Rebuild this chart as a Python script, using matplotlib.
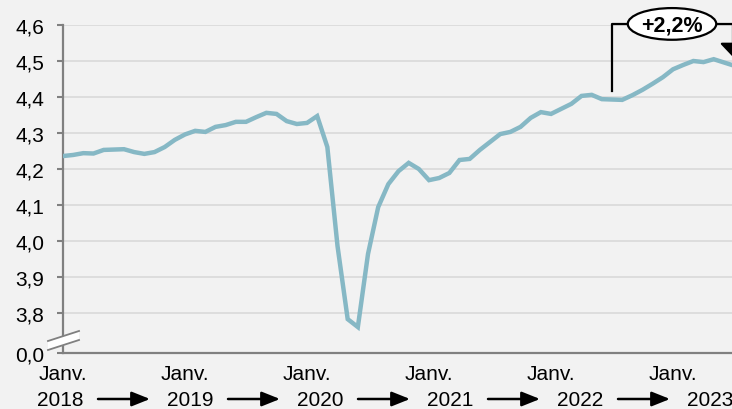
import matplotlib.pyplot as plt
from matplotlib.patches import Polygon, Ellipse
import numpy

plt.rcParams['font.family'] = ['Liberation Sans', 'DejaVu Sans']

# monthly values, Jan 2018 -> Jul 2023
values = [4.236, 4.239, 4.244, 4.243, 4.253, 4.254, 4.255, 4.247, 4.242, 4.247, 4.261, 4.281,
          4.296, 4.306, 4.303, 4.317, 4.322, 4.331, 4.331, 4.344, 4.356, 4.353, 4.333, 4.325,
          4.328, 4.347, 4.261, 3.986, 3.783, 3.761, 3.964, 4.094, 4.158, 4.194, 4.217, 4.200,
          4.169, 4.175, 4.189, 4.225, 4.228, 4.253, 4.275, 4.297, 4.303, 4.317, 4.342, 4.358,
          4.353, 4.367, 4.381, 4.403, 4.406, 4.394, 4.393, 4.392, 4.405, 4.420, 4.437, 4.455,
          4.477, 4.489, 4.500, 4.497, 4.505, 4.496, 4.487]
years = [2018, 2019, 2020, 2021, 2022, 2023]
ytick_values = [3.8, 3.9, 4.0, 4.1, 4.2, 4.3, 4.4, 4.5, 4.6]
change_label = "+2,2%"
change_start = 54   # juillet 2022
change_end = 66     # juillet 2023

W, H = 732, 410
BG = '#f2f2f2'
LINE = '#86b8c5'
AXIS = '#808080'
GRID = '#d9d9d9'
FS = 15


def px(x, y):
    # figure pixels from top-left -> figure fraction
    return x / W, 1 - y / H


fig = plt.figure(figsize=(W / 100, H / 100), dpi=100, facecolor=BG)
ax = fig.add_axes([63 / W, 1 - 354 / H, 1 - 63 / W, (354 - 26) / H])
ax.set_facecolor(BG)

ybreak = 3.8 - 40 / 360.0  # "0,0" sits 40 px below 3,8
x = numpy.arange(len(values))
ax.plot(x, values, color=LINE, lw=3.2, solid_joinstyle='miter', zorder=3)

ax.set_xlim(0, 65.8)
ax.set_ylim(ybreak, 4.6)

ax.set_yticks([ybreak] + ytick_values)
ax.set_yticklabels(['0,0'] + [f"{v:.1f}".replace('.', ',') for v in ytick_values])
ax.grid(axis='y', color=GRID, lw=1.2, zorder=0)
ax.yaxis.get_gridlines()[0].set_visible(False)
ax.tick_params(axis='y', length=4.5, width=1.5, color=AXIS, pad=9, labelsize=FS, labelcolor='black')

jan_pos = [(y - years[0]) * 12 for y in years]
ax.set_xticks(jan_pos)
ax.set_xticklabels(['Janv.'] * len(years))
ax.tick_params(axis='x', length=0, pad=8, labelsize=FS, labelcolor='black')

for s in ['top', 'right']:
    ax.spines[s].set_visible(False)
for s in ['left', 'bottom']:
    ax.spines[s].set_color(AXIS)
    ax.spines[s].set_linewidth(1.6)

# axis break mark
brk = Polygon([px(48, 342), px(79, 332), px(79, 341), px(48, 351)], closed=True,
              transform=fig.transFigure, facecolor='white', edgecolor='none', zorder=10)
fig.add_artist(brk)
for (x0, y0, x1, y1) in [(48, 342, 79, 332), (48, 351, 79, 341)]:
    fig.add_artist(plt.Line2D([px(x0, y0)[0], px(x1, y1)[0]], [px(x0, y0)[1], px(x1, y1)[1]],
                              transform=fig.transFigure, color=AXIS, lw=1.3, zorder=11))

# year row with arrows
for i, yr in enumerate(years):
    cx = 60 + 130 * i
    fig.text(*px(cx, 401), str(yr), ha='center', va='center', fontsize=FS)
    if i < len(years) - 1:
        mid = cx + 64
        ax.annotate('', xy=px(mid + 26, 400), xytext=px(mid - 26, 400),
                    xycoords='figure fraction', textcoords='figure fraction',
                    arrowprops=dict(arrowstyle='-|>,head_length=0.55,head_width=0.22',
                                    mutation_scale=20, color='black', lw=1.8,
                                    shrinkA=0, shrinkB=0))

# change bracket
ytop = 4.603
xr = change_end - 0.1
ax.plot([change_start, change_start, 57.2], [4.417, ytop, ytop], color='black', lw=1.6,
        clip_on=False, zorder=5)
ax.plot([62.6, xr], [ytop, ytop], color='black', lw=1.6, clip_on=False, zorder=5)
ax.annotate('', xy=(xr, 4.511), xytext=(xr, ytop + 0.002),
            arrowprops=dict(arrowstyle='-|>,head_length=0.42,head_width=0.4', mutation_scale=20,
                            color='black', lw=1.6, shrinkA=0, shrinkB=0), annotation_clip=False)
ell = Ellipse((59.9, ytop), 8.7, 0.088, facecolor='white', edgecolor='black', lw=1.6,
              clip_on=False, zorder=6)
ax.add_patch(ell)
ax.text(59.9, ytop - 0.003, change_label, ha='center', va='center', fontsize=FS + 0.5,
        fontweight='bold', zorder=7)

fig.savefig('out.png', dpi=100, facecolor=BG)
